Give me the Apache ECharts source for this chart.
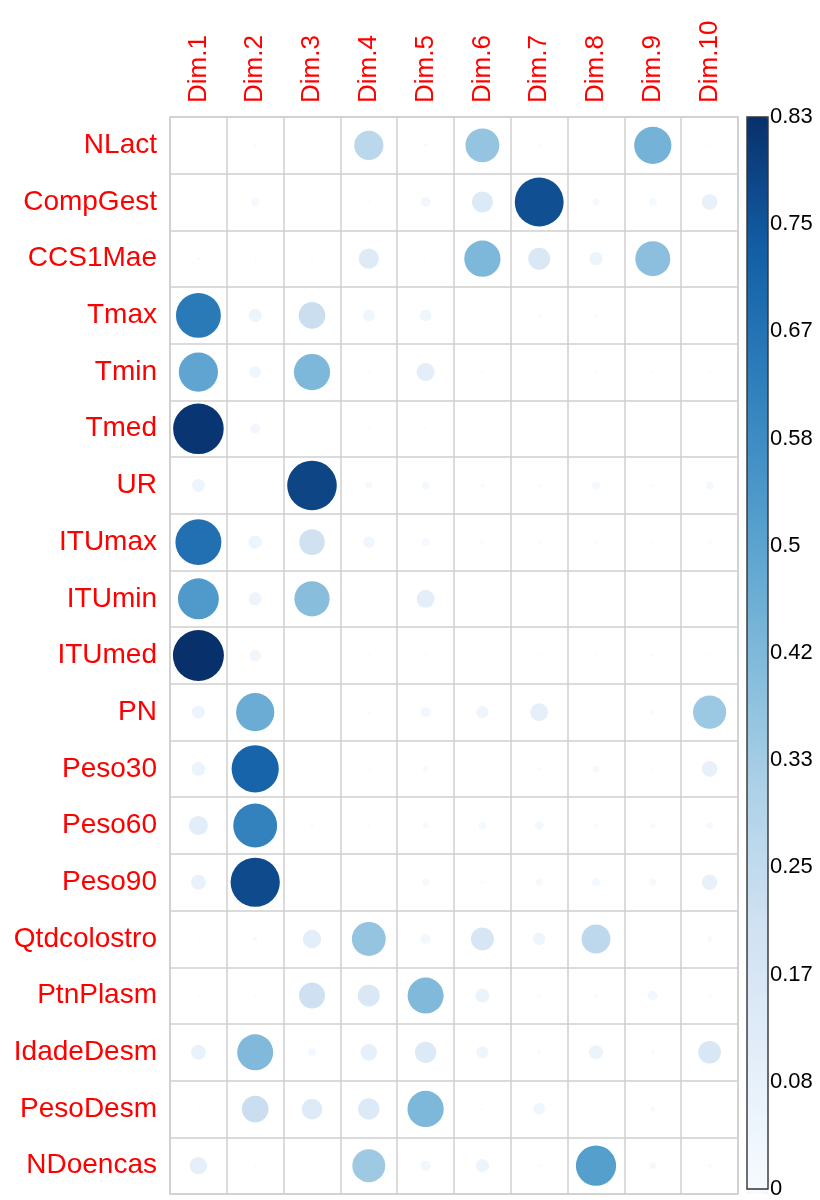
<!DOCTYPE html>
<html>
<head>
<meta charset="utf-8">
<script src="https://cdn.jsdelivr.net/npm/echarts@6/dist/echarts.min.js"></script>
<style>
  html, body { margin: 0; padding: 0; background: #fff; }
  #chart { width: 820px; height: 1200px; }
</style>
</head>
<body>
<div id="chart"></div>
<script>
// Dimensions (columns) and variables (rows)
const dims = ['Dim.1', 'Dim.2', 'Dim.3', 'Dim.4', 'Dim.5', 'Dim.6', 'Dim.7', 'Dim.8', 'Dim.9', 'Dim.10'];
const variables = ['NLact', 'CompGest', 'CCS1Mae', 'Tmax', 'Tmin', 'Tmed', 'UR', 'ITUmax', 'ITUmin', 'ITUmed',
  'PN', 'Peso30', 'Peso60', 'Peso90', 'Qtdcolostro', 'PtnPlasm', 'IdadeDesm', 'PesoDesm', 'NDoencas'];

// Contribution of each variable to each dimension (Dim.1 .. Dim.10)
const NLact       = [0.001, 0.003, 0.002, 0.274, 0.005, 0.369, 0.004, 0.001, 0.444, 0.002];
const CompGest    = [0.001, 0.020, 0.001, 0.002, 0.032, 0.141, 0.766, 0.016, 0.020, 0.079];
const CCS1Mae     = [0.003, 0.002, 0.003, 0.131, 0.002, 0.421, 0.154, 0.056, 0.391, 0.002];
const Tmax        = [0.646, 0.056, 0.227, 0.044, 0.044, 0.002, 0.003, 0.004, 0.002, 0.001];
const Tmin        = [0.493, 0.044, 0.421, 0.003, 0.103, 0.002, 0.001, 0.002, 0.002, 0.002];
const Tmed        = [0.820, 0.032, 0.002, 0.003, 0.002, 0.002, 0.002, 0.002, 0.002, 0.001];
const UR          = [0.054, 0.000, 0.788, 0.015, 0.020, 0.005, 0.004, 0.020, 0.003, 0.020];
const ITUmax      = [0.675, 0.056, 0.210, 0.041, 0.020, 0.003, 0.003, 0.003, 0.002, 0.003];
const ITUmin      = [0.536, 0.054, 0.398, 0.001, 0.103, 0.001, 0.001, 0.001, 0.001, 0.001];
const ITUmed      = [0.834, 0.044, 0.002, 0.002, 0.002, 0.001, 0.002, 0.003, 0.004, 0.002];
const PN          = [0.054, 0.468, 0.003, 0.003, 0.032, 0.048, 0.100, 0.001, 0.005, 0.354];
const Peso30      = [0.060, 0.714, 0.002, 0.002, 0.010, 0.001, 0.005, 0.015, 0.003, 0.079];
const Peso60      = [0.115, 0.618, 0.003, 0.002, 0.010, 0.020, 0.025, 0.005, 0.008, 0.015];
const Peso90      = [0.072, 0.776, 0.001, 0.001, 0.015, 0.003, 0.015, 0.020, 0.015, 0.079];
const Qtdcolostro = [0.002, 0.005, 0.107, 0.369, 0.032, 0.169, 0.048, 0.268, 0.002, 0.010];
const PtnPlasm    = [0.002, 0.002, 0.216, 0.154, 0.415, 0.063, 0.005, 0.005, 0.030, 0.003];
const IdadeDesm   = [0.072, 0.415, 0.020, 0.089, 0.145, 0.048, 0.005, 0.063, 0.005, 0.164];
const PesoDesm    = [0.002, 0.227, 0.137, 0.145, 0.421, 0.003, 0.044, 0.003, 0.010, 0.001];
const NDoencas    = [0.096, 0.003, 0.002, 0.349, 0.032, 0.056, 0.003, 0.519, 0.015, 0.003];

const rows = [NLact, CompGest, CCS1Mae, Tmax, Tmin, Tmed, UR, ITUmax, ITUmin, ITUmed,
  PN, Peso30, Peso60, Peso90, Qtdcolostro, PtnPlasm, IdadeDesm, PesoDesm, NDoencas];

// Colour scale limits and legend tick labels
const scaleMax = 0.834;
const legendLabels = ['0', '0.08', '0.17', '0.25', '0.33', '0.42', '0.5', '0.58', '0.67', '0.75', '0.83'];
const blues = ['#F7FBFF', '#E3EEF9', '#D0E1F2', '#AED1E7', '#7FB9DA', '#549ECD', '#3080BC', '#135FA7', '#08306B'];

// [column index, row index, value] triples for the scatter
const points = [];
rows.forEach((vals, r) => vals.forEach((v, c) => points.push([c, r, v])));

// Layout of the matrix area
const gridLeft = 170, gridTop = 117, gridRight = 82, gridBottom = 6;
const cellSize = (1200 - gridTop - gridBottom) / variables.length;

const chart = echarts.init(document.getElementById('chart'));
const labelFont = 'Liberation Sans, Arial, sans-serif';

chart.setOption({
  animation: false,
  backgroundColor: '#ffffff',
  grid: [
    {
      left: gridLeft, right: gridRight, top: gridTop, bottom: gridBottom,
      show: true, borderColor: '#cfcfcf', borderWidth: 1.5, backgroundColor: 'transparent'
    },
    {
      left: 747, width: 21, top: gridTop, bottom: gridBottom,
      show: true, borderColor: '#333333', borderWidth: 1.4, backgroundColor: 'transparent', z: 10
    }
  ],
  xAxis: [
    {
      type: 'category', data: dims, position: 'top', gridIndex: 0,
      axisLine: { show: false }, axisTick: { show: false },
      splitLine: { show: true, interval: 0, lineStyle: { color: '#cfcfcf', width: 1.5 } },
      axisLabel: { rotate: -90, color: '#ff0000', fontSize: 26, fontFamily: labelFont, margin: 14, interval: 0 }
    },
    { type: 'value', gridIndex: 1, show: false, min: 0, max: 1 }
  ],
  yAxis: [
    {
      type: 'category', data: variables, inverse: true, gridIndex: 0,
      axisLine: { show: false }, axisTick: { show: false },
      splitLine: { show: true, interval: 0, lineStyle: { color: '#cfcfcf', width: 1.5 } },
      axisLabel: { color: '#ff0000', fontSize: 28, fontFamily: labelFont, margin: 13, interval: 0 }
    },
    {
      type: 'value', gridIndex: 1, position: 'right', min: 0, max: scaleMax, interval: scaleMax / 10,
      axisLine: { show: false },
      axisTick: { show: true, length: 3, lineStyle: { color: '#222', width: 1 } },
      splitLine: { show: false },
      axisLabel: {
        color: '#000', fontSize: 22, fontFamily: labelFont, margin: 2,
        formatter: (v) => legendLabels[Math.round(v / (scaleMax / 10))]
      }
    }
  ],
  visualMap: {
    type: 'continuous', min: 0, max: scaleMax, seriesIndex: 0, dimension: 2,
    calculable: false, hoverLink: false, orient: 'vertical',
    left: 747, top: gridTop, itemWidth: 21, itemHeight: 1200 - gridTop - gridBottom,
    padding: 0, text: ['', ''], showLabel: false,
    inRange: { color: blues }
  },
  series: [
    {
      type: 'scatter', xAxisIndex: 0, yAxisIndex: 0,
      data: points,
      symbol: 'circle',
      symbolSize: (d) => 0.9 * cellSize * Math.sqrt(Math.max(d[2], 0) / scaleMax),
      itemStyle: { opacity: 1 },
      emphasis: { disabled: true }
    },
    {
      type: 'line', xAxisIndex: 1, yAxisIndex: 1, data: [], silent: true
    }
  ]
});
</script>
</body>
</html>
